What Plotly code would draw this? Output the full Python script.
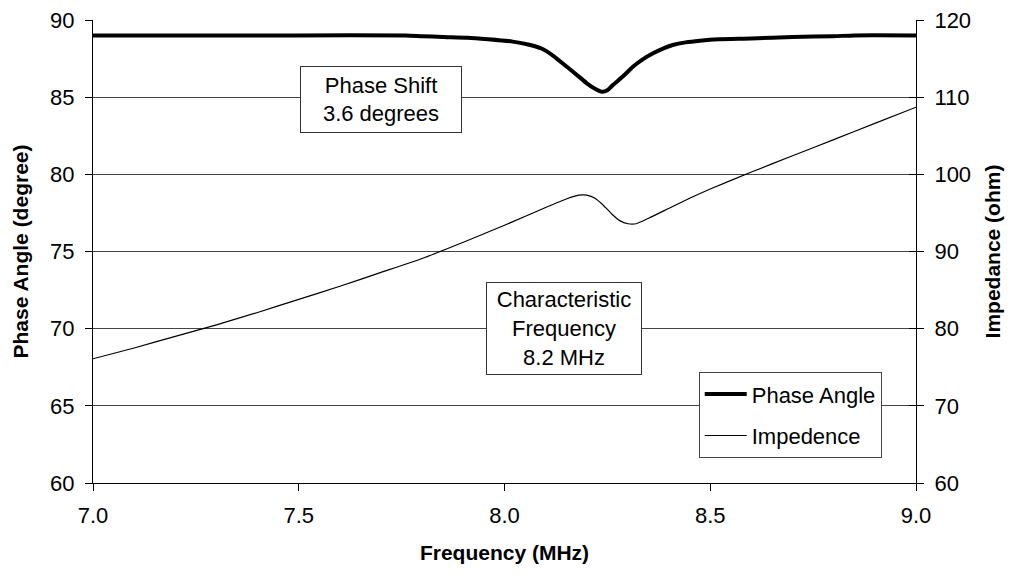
import plotly.graph_objects as go

# Phase angle sweep (degrees) versus frequency (MHz)
phase_freq = [7.00, 7.50, 7.76, 7.80, 7.85, 7.91, 7.96, 8.02, 8.06, 8.09, 8.12, 8.15,
              8.18, 8.20, 8.22, 8.237, 8.25, 8.264, 8.29, 8.312, 8.336, 8.361, 8.385,
              8.409, 8.44, 8.475, 8.52, 8.60, 8.70, 8.80, 8.85, 9.00]
phase_deg = [89.0, 89.0, 89.0, 88.95, 88.9, 88.85, 88.75, 88.6, 88.4, 88.15, 87.65, 87.0,
             86.35, 85.9, 85.55, 85.35, 85.45, 85.8, 86.4, 86.97, 87.45, 87.84, 88.15,
             88.38, 88.55, 88.66, 88.75, 88.8, 88.9, 88.95, 89.0, 89.0]

# Impedance sweep (ohm) versus frequency (MHz)
imp_freq = [7.00, 7.10, 7.20, 7.30, 7.40, 7.50, 7.60, 7.70, 7.80, 7.90, 8.00, 8.10,
            8.15, 8.18, 8.20, 8.22, 8.24, 8.26, 8.28, 8.30, 8.32, 8.35, 8.40, 8.45,
            8.50, 8.60, 8.70, 8.80, 8.90, 9.00]
imp_ohm = [76.1, 77.5, 79.0, 80.5, 82.1, 83.8, 85.5, 87.3, 89.1, 91.2, 93.4, 95.7,
           96.8, 97.3, 97.3, 96.9, 96.0, 94.9, 94.0, 93.6, 93.6, 94.3, 95.6, 96.9,
           98.1, 100.3, 102.4, 104.5, 106.6, 108.7]

x_ticks = [7.0, 7.5, 8.0, 8.5, 9.0]
y_left_ticks = [60, 65, 70, 75, 80, 85, 90]
y_right_ticks = [60, 70, 80, 90, 100, 110, 120]

FONT = "Arial, Liberation Sans, sans-serif"
FS = 22
TITLE_FS = 21

fig = go.Figure()
fig.add_trace(go.Scatter(x=phase_freq, y=phase_deg, name="Phase Angle", mode="lines",
                         line=dict(color="black", width=4, shape="spline", smoothing=0.5),
                         yaxis="y", legendgroup="a"))
fig.add_trace(go.Scatter(x=imp_freq, y=imp_ohm, name="Impedence", mode="lines",
                         line=dict(color="black", width=1.2, shape="spline", smoothing=0.5),
                         yaxis="y2", legendgroup="b"))
fig.add_trace(go.Scatter(x=[None], y=[None], yaxis="y3", showlegend=False, hoverinfo="skip"))

fig.add_annotation(x=7.70, y=84.85, xref="x", yref="y", text="Phase Shift<br>3.6 degrees",
                   showarrow=False, width=160, height=65, borderpad=0, borderwidth=1,
                   bordercolor="#333", bgcolor="white", font=dict(size=FS, color="black"))
fig.add_annotation(x=8.145, y=70.0, xref="x", yref="y",
                   text="Characteristic<br>Frequency<br>8.2 MHz",
                   showarrow=False, width=154, height=91, borderpad=0, borderwidth=1,
                   bordercolor="#333", bgcolor="white", font=dict(size=FS, color="black"))

fig.update_layout(
    width=1011, height=574,
    margin=dict(l=93, r=95, t=20, b=91),
    paper_bgcolor="white", plot_bgcolor="white",
    font=dict(family=FONT, size=FS, color="black"),
    showlegend=True,
    legend=dict(x=0.736, y=0.2395, xanchor="left", yanchor="top",
                bgcolor="white", bordercolor="#444", borderwidth=1, itemwidth=42,
                font=dict(size=FS), tracegroupgap=10, traceorder="grouped"),
    xaxis=dict(range=[7.0, 9.0], tickvals=x_ticks, ticktext=[f"{v:.1f}" for v in x_ticks],
               ticks="outside", ticklen=7, tickcolor="black", showline=True,
               linecolor="black", linewidth=1, showgrid=False, zeroline=False,
               ticklabelstandoff=6, automargin=False,
               title=dict(text="<b>Frequency (MHz)</b>", standoff=17, font=dict(size=TITLE_FS))),
    yaxis=dict(range=[60, 90], tickvals=y_left_ticks, ticks="outside", ticklen=7,
               tickcolor="black", showline=True, linecolor="black", linewidth=1,
               showgrid=True, gridcolor="#444", gridwidth=1, zeroline=False,
               ticklabelstandoff=6, automargin=False,
               title=dict(text="<b>Phase Angle (degree)</b>", standoff=15, font=dict(size=TITLE_FS))),
    yaxis2=dict(range=[60, 120], tickvals=y_right_ticks, overlaying="y", side="right",
                ticks="outside", ticklen=7, tickcolor="black", showline=True,
                linecolor="black", linewidth=1, showgrid=False, zeroline=False,
                ticklabelstandoff=6, automargin=False,
                title=dict(text="<b>Impedance (ohm)</b>", standoff=15, font=dict(size=TITLE_FS))),
    # inner half of the crossing tick marks on the right-hand axis
    yaxis3=dict(range=[60, 120], tickvals=y_right_ticks, overlaying="y", side="right",
                ticks="inside", ticklen=7, tickcolor="black", showticklabels=False,
                showgrid=False, zeroline=False, showline=False, automargin=False),
)

fig.write_html("out.html")
